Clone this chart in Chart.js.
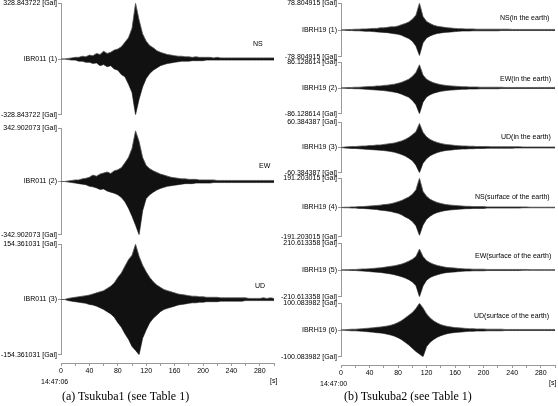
<!DOCTYPE html>
<html>
<head>
<meta charset="utf-8">
<script src="https://cdn.jsdelivr.net/npm/chart.js@4.4.1/dist/chart.umd.min.js"></script>
<style>
  body { margin: 0; background: #fff; width: 558px; height: 406px; position: relative; overflow: hidden; }
  canvas { position: absolute; }
  .t { position: absolute; font: 7px "Liberation Sans", Arial, sans-serif; color: #000; white-space: nowrap; }
  .cap { position: absolute; font: 12px "Liberation Serif", "Times New Roman", serif; color: #000; white-space: nowrap; }
</style>
</head>
<body>
<script>
// time samples [s]
const TIMES = [0,5,10,15,20,25,30,35,40,45,50,55,60,65,70,75,80,85,90,95,100,105,110,115,120,125,130,135,140,145,
  150,155,160,165,170,175,180,185,190,195,200,205,210,215,220,225,230,235,240,245,250,255,260,265,270,275,280,285,290,295,300];
const X_TICKS = [0,40,80,120,160,200,240,280];

// peak values [Gal]
const MAX_A = ['328.843722','342.902073','154.361031'];
const MAX_B = ['78.804915','86.128614','60.384387','191.203015','210.613358','100.083982'];
const NAMES_A = ['IBR011 (1)','IBR011 (2)','IBR011 (3)'];
const NAMES_B = ['IBRH19 (1)','IBRH19 (2)','IBRH19 (3)','IBRH19 (4)','IBRH19 (5)','IBRH19 (6)'];

// envelopes (fraction of peak), upper and lower
const A1_UP = [0,0,0.01,0.02,0.03,0.03, 0.05,0.04,0.07,0.06,0.1,0.08, 0.14,0.1,0.12,0.16,0.18,0.22, 0.3,0.38,0.55,1.0,0.7,0.45,
  0.32,0.24,0.2,0.15,0.12,0.1, 0.08,0.07,0.06,0.05,0.05,0.04, 0.04,0.03,0.04,0.03,0.03,0.03, 0.03,0.02,0.03,0.02,0.02,0.02,
  0.02,0.02,0.02,0.02,0.02,0.02, 0.02,0.02,0.02,0.02,0.02,0.02,0.02];
const A1_LO = [0,0,-0.01,-0.02,-0.02,-0.04, -0.04,-0.06,-0.06,-0.08,-0.07,-0.12, -0.1,-0.14,-0.12,-0.18,-0.2,-0.28, -0.32,-0.45,-0.6,-1.0,-0.72,-0.5,
  -0.35,-0.26,-0.2,-0.16,-0.12,-0.1, -0.08,-0.07,-0.06,-0.05,-0.04,-0.04, -0.04,-0.03,-0.03,-0.03,-0.03,-0.02, -0.02,-0.02,-0.02,-0.02,-0.02,-0.02,
  -0.02,-0.02,-0.02,-0.02,-0.02,-0.02, -0.02,-0.02,-0.02,-0.02,-0.02,-0.02,-0.02];
const A2_UP = [0,0,0.01,0.02,0.03,0.03, 0.05,0.06,0.08,0.12,0.1,0.14, 0.16,0.18,0.15,0.2,0.22,0.26, 0.35,0.45,0.62,0.95,0.75,0.45,
  0.3,0.24,0.2,0.17,0.14,0.12, 0.1,0.08,0.07,0.06,0.05,0.05, 0.04,0.04,0.04,0.03,0.03,0.03, 0.03,0.03,0.02,0.02,0.02,0.02,
  0.02,0.02,0.02,0.02,0.02,0.02, 0.02,0.02,0.02,0.02,0.02,0.02,0.02];
const A2_LO = [0,0,-0.01,-0.02,-0.03,-0.04, -0.05,-0.06,-0.09,-0.1,-0.12,-0.15, -0.14,-0.18,-0.2,-0.22,-0.25,-0.3, -0.38,-0.5,-0.65,-0.82,-1.0,-0.55,
  -0.32,-0.25,-0.2,-0.16,-0.13,-0.11, -0.09,-0.08,-0.07,-0.06,-0.05,-0.04, -0.04,-0.04,-0.03,-0.03,-0.03,-0.03, -0.03,-0.02,-0.02,-0.02,-0.02,-0.02,
  -0.02,-0.02,-0.02,-0.02,-0.02,-0.02, -0.02,-0.02,-0.02,-0.02,-0.02,-0.02,-0.02];
const A3_UP = [0,0,0.02,0.03,0.04,0.05, 0.06,0.07,0.08,0.1,0.12,0.14, 0.16,0.2,0.24,0.3,0.4,0.48, 0.6,0.72,0.8,1.0,0.78,0.62,
  0.5,0.4,0.32,0.26,0.22,0.18, 0.16,0.14,0.12,0.1,0.09,0.08, 0.07,0.06,0.06,0.05,0.05,0.04, 0.04,0.04,0.04,0.03,0.03,0.03,
  0.03,0.03,0.03,0.03,0.03,0.02, 0.02,0.02,0.02,0.03,0.02,0.03,0.02];
const A3_LO = [0,0,-0.02,-0.03,-0.04,-0.05, -0.06,-0.07,-0.09,-0.1,-0.12,-0.15, -0.18,-0.22,-0.26,-0.32,-0.42,-0.5, -0.62,-0.72,-0.85,-0.92,-1.0,-0.7,
  -0.55,-0.42,-0.34,-0.28,-0.22,-0.18, -0.16,-0.14,-0.12,-0.1,-0.09,-0.08, -0.07,-0.06,-0.06,-0.05,-0.05,-0.04, -0.04,-0.04,-0.04,-0.03,-0.03,-0.03,
  -0.03,-0.03,-0.03,-0.03,-0.02,-0.02, -0.02,-0.02,-0.02,-0.02,-0.02,-0.02,-0.02];

const B1_UP = [0,0.01,0.02,0.02,0.03,0.03, 0.04,0.04,0.05,0.06,0.06,0.08, 0.08,0.1,0.12,0.12,0.15,0.2, 0.24,0.3,0.4,0.55,1.0,0.5,
  0.32,0.24,0.18,0.14,0.12,0.1, 0.08,0.07,0.06,0.05,0.05,0.04, 0.04,0.04,0.03,0.03,0.03,0.03, 0.03,0.03,0.03,0.03,0.03,0.03,
  0.02,0.02,0.02,0.02,0.02,0.02, 0.02,0.02,0.02,0.02,0.02,0.02,0.02];
const B1_LO = [0,-0.01,-0.02,-0.02,-0.03,-0.03, -0.04,-0.05,-0.05,-0.06,-0.07,-0.08, -0.09,-0.1,-0.12,-0.14,-0.16,-0.2, -0.26,-0.32,-0.42,-0.6,-0.95,-0.48,
  -0.3,-0.22,-0.17,-0.13,-0.11,-0.09, -0.08,-0.07,-0.06,-0.05,-0.04,-0.04, -0.04,-0.03,-0.03,-0.03,-0.03,-0.03, -0.03,-0.03,-0.03,-0.02,-0.02,-0.02,
  -0.02,-0.02,-0.02,-0.02,-0.02,-0.02, -0.02,-0.02,-0.02,-0.02,-0.02,-0.02,-0.02];
const B2_UP = [0,0.01,0.02,0.02,0.03,0.03, 0.04,0.05,0.06,0.06,0.08,0.08, 0.1,0.11,0.13,0.15,0.18,0.22, 0.28,0.34,0.45,0.6,0.9,0.5,
  0.34,0.26,0.2,0.16,0.13,0.11, 0.09,0.08,0.07,0.06,0.05,0.05, 0.04,0.04,0.04,0.03,0.03,0.03, 0.03,0.03,0.03,0.03,0.02,0.02,
  0.02,0.02,0.02,0.02,0.02,0.02, 0.02,0.02,0.02,0.02,0.02,0.02,0.02];
const B2_LO = [0,-0.01,-0.02,-0.02,-0.03,-0.03, -0.04,-0.05,-0.06,-0.07,-0.08,-0.09, -0.1,-0.12,-0.14,-0.16,-0.19,-0.24, -0.3,-0.36,-0.48,-0.65,-1.0,-0.55,
  -0.35,-0.26,-0.2,-0.16,-0.13,-0.11, -0.09,-0.08,-0.07,-0.06,-0.05,-0.05, -0.04,-0.04,-0.04,-0.03,-0.03,-0.03, -0.03,-0.03,-0.03,-0.02,-0.02,-0.02,
  -0.02,-0.02,-0.02,-0.02,-0.02,-0.02, -0.02,-0.02,-0.02,-0.02,-0.02,-0.02,-0.02];
const B3_UP = [0,0.02,0.03,0.04,0.04,0.05, 0.06,0.06,0.08,0.08,0.1,0.1, 0.12,0.14,0.16,0.18,0.22,0.26, 0.32,0.4,0.5,0.62,0.95,0.6,
  0.42,0.32,0.25,0.2,0.16,0.13, 0.11,0.1,0.08,0.07,0.06,0.06, 0.05,0.05,0.04,0.04,0.04,0.04, 0.03,0.03,0.03,0.03,0.03,0.03,
  0.03,0.03,0.03,0.02,0.02,0.02, 0.02,0.02,0.02,0.02,0.02,0.02,0.02];
const B3_LO = [0,-0.02,-0.03,-0.04,-0.04,-0.05, -0.06,-0.07,-0.08,-0.09,-0.1,-0.11, -0.12,-0.14,-0.16,-0.19,-0.23,-0.28, -0.34,-0.42,-0.52,-0.7,-1.0,-0.62,
  -0.44,-0.33,-0.26,-0.2,-0.16,-0.13, -0.11,-0.1,-0.08,-0.07,-0.06,-0.06, -0.05,-0.05,-0.04,-0.04,-0.04,-0.03, -0.03,-0.03,-0.03,-0.03,-0.03,-0.03,
  -0.03,-0.02,-0.02,-0.02,-0.02,-0.02, -0.02,-0.02,-0.02,-0.02,-0.02,-0.02,-0.02];
const B4_UP = [0,0.01,0.01,0.02,0.02,0.03, 0.03,0.04,0.05,0.06,0.07,0.08, 0.1,0.11,0.13,0.16,0.2,0.24, 0.3,0.36,0.45,0.6,1.0,0.55,
  0.38,0.28,0.22,0.17,0.14,0.11, 0.09,0.08,0.07,0.06,0.05,0.04, 0.04,0.03,0.03,0.03,0.03,0.02, 0.02,0.02,0.02,0.02,0.02,0.02,
  0.02,0.02,0.02,0.02,0.02,0.01, 0.01,0.01,0.01,0.01,0.01,0.01,0.01];
const B4_LO = [0,-0.01,-0.01,-0.02,-0.02,-0.03, -0.03,-0.04,-0.05,-0.06,-0.07,-0.09, -0.1,-0.12,-0.14,-0.17,-0.2,-0.25, -0.32,-0.38,-0.48,-0.62,-0.95,-0.6,
  -0.4,-0.3,-0.22,-0.17,-0.14,-0.11, -0.09,-0.08,-0.07,-0.06,-0.05,-0.04, -0.04,-0.03,-0.03,-0.03,-0.03,-0.02, -0.02,-0.02,-0.02,-0.02,-0.02,-0.02,
  -0.02,-0.02,-0.02,-0.01,-0.01,-0.01, -0.01,-0.01,-0.01,-0.01,-0.01,-0.01,-0.01];
const B5_UP = [0,0.01,0.01,0.02,0.02,0.03, 0.04,0.04,0.05,0.06,0.07,0.08, 0.1,0.12,0.14,0.16,0.19,0.22, 0.27,0.33,0.4,0.5,0.78,0.5,
  0.35,0.27,0.21,0.17,0.14,0.11, 0.09,0.08,0.07,0.06,0.05,0.04, 0.04,0.03,0.03,0.03,0.03,0.02, 0.02,0.02,0.02,0.02,0.02,0.02,
  0.02,0.02,0.02,0.02,0.02,0.01, 0.01,0.01,0.01,0.01,0.01,0.01,0.01];
const B5_LO = [0,-0.01,-0.01,-0.02,-0.02,-0.03, -0.04,-0.05,-0.06,-0.07,-0.08,-0.09, -0.11,-0.13,-0.15,-0.18,-0.21,-0.25, -0.3,-0.36,-0.45,-0.58,-1.0,-0.6,
  -0.38,-0.28,-0.22,-0.18,-0.14,-0.11, -0.09,-0.08,-0.07,-0.06,-0.05,-0.04, -0.04,-0.03,-0.03,-0.03,-0.03,-0.02, -0.02,-0.02,-0.02,-0.02,-0.02,-0.02,
  -0.02,-0.02,-0.02,-0.01,-0.01,-0.01, -0.01,-0.01,-0.01,-0.01,-0.01,-0.01,-0.01];
const B6_UP = [0,0.01,0.02,0.03,0.03,0.04, 0.05,0.06,0.07,0.08,0.1,0.11, 0.13,0.15,0.18,0.22,0.28,0.35, 0.45,0.55,0.65,0.8,1.0,0.82,
  0.6,0.45,0.34,0.26,0.2,0.16, 0.13,0.11,0.09,0.08,0.07,0.06, 0.05,0.05,0.04,0.04,0.04,0.03, 0.03,0.03,0.03,0.03,0.02,0.02,
  0.02,0.02,0.02,0.02,0.02,0.02, 0.02,0.02,0.02,0.02,0.02,0.02,0.02];
const B6_LO = [0,-0.01,-0.02,-0.03,-0.03,-0.04, -0.05,-0.06,-0.07,-0.08,-0.1,-0.11, -0.13,-0.16,-0.19,-0.23,-0.29,-0.36, -0.46,-0.56,-0.68,-0.8,-0.9,-1.0,
  -0.62,-0.46,-0.35,-0.27,-0.21,-0.17, -0.13,-0.11,-0.09,-0.08,-0.07,-0.06, -0.05,-0.05,-0.04,-0.04,-0.04,-0.03, -0.03,-0.03,-0.03,-0.03,-0.02,-0.02,
  -0.02,-0.02,-0.02,-0.02,-0.02,-0.02, -0.02,-0.02,-0.02,-0.02,-0.02,-0.02,-0.02];

const FONT = { family: '"Liberation Sans", Arial, sans-serif', size: 7 };
const PAD = 5;

function makeCanvas(left, top, w, h) {
    let c = document.createElement('canvas');
    c.width = w; c.height = h;
    c.style.left = left + 'px'; c.style.top = top + 'px';
    c.style.width = w + 'px'; c.style.height = h + 'px';
    document.body.appendChild(c);
    return c;
}

function makeTrace(left, axisW, w, top, bottom, up, lo, max, name) {
    let c = makeCanvas(left, top - PAD, w, bottom - top + 2 * PAD);
    new Chart(c, {
        type: 'line',
        data: {
            datasets: [
                { data: up.map((v, i) => ({ x: TIMES[i], y: v })), fill: '+1', backgroundColor: '#111', borderColor: '#555', borderWidth: 0.8, pointRadius: 0, tension: 0 },
                { data: lo.map((v, i) => ({ x: TIMES[i], y: v })), fill: false, borderColor: '#555', borderWidth: 0.8, pointRadius: 0, tension: 0 }
            ]
        },
        options: {
            responsive: false, animation: false, devicePixelRatio: 1,
            layout: { padding: { top: PAD, bottom: PAD, right: 2, left: 0 } },
            plugins: { legend: { display: false }, tooltip: { enabled: false } },
            scales: {
                x: { type: 'linear', min: 0, max: 300, display: false },
                y: {
                    min: -1, max: 1,
                    afterBuildTicks: a => { a.ticks = [{ value: -1 }, { value: 0 }, { value: 1 }]; },
                    afterFit: a => { a.width = axisW; },
                    border: { color: '#999', width: 1 },
                    grid: { drawOnChartArea: false, tickLength: 3, color: '#999' },
                    ticks: {
                        font: FONT, color: '#000', padding: 1, autoSkip: false,
                        callback: v => v === 0 ? name : (v > 0 ? '' : '-') + max + ' [Gal]'
                    }
                }
            }
        }
    });
}

function makeAxis(left, axisW, w, lineY) {
    let c = makeCanvas(left, lineY - 10, w, 30);
    new Chart(c, {
        type: 'line',
        data: { datasets: [{ data: [] }] },
        options: {
            responsive: false, animation: false, devicePixelRatio: 1,
            layout: { padding: { top: 0, bottom: 0, right: 2, left: axisW } },
            plugins: { legend: { display: false }, tooltip: { enabled: false } },
            scales: {
                y: { display: false },
                x: {
                    type: 'linear', min: 0, max: 300,
                    afterFit: a => { a.height = 20; },
                    border: { color: '#999', width: 1 },
                    grid: { drawOnChartArea: false, tickLength: 3, color: '#999' },
                    ticks: {
                        stepSize: 20, font: FONT, color: '#000', padding: 1, maxRotation: 0, autoSkip: false,
                        callback: v => X_TICKS.includes(v) ? String(v) : ''
                    }
                }
            }
        }
    });
}

const A_POS = [[3, 115], [128, 235], [244, 355]];
const A_DATA = [[A1_UP, A1_LO], [A2_UP, A2_LO], [A3_UP, A3_LO]];
A_POS.forEach((p, i) => makeTrace(0, 61, 276, p[0], p[1], A_DATA[i][0], A_DATA[i][1], MAX_A[i], NAMES_A[i]));

const B_POS = [[3, 57], [62, 114], [122, 173], [178, 237], [243, 297], [303, 357]];
const B_DATA = [[B1_UP, B1_LO], [B2_UP, B2_LO], [B3_UP, B3_LO], [B4_UP, B4_LO], [B5_UP, B5_LO], [B6_UP, B6_LO]];
B_POS.forEach((p, i) => makeTrace(278, 63, 279, p[0], p[1], B_DATA[i][0], B_DATA[i][1], MAX_B[i], NAMES_B[i]));

makeAxis(0, 61, 276, 363);
makeAxis(278, 63, 279, 365);

const LABELS = [
    ['NS', 253, 40], ['EW', 259, 162], ['UD', 255, 282],
    ['NS(in the earth)', 500, 14], ['EW(in the earth)', 500, 75], ['UD(in the earth)', 501, 133],
    ['NS(surface of the earth)', 475, 193], ['EW(surface of the earth)', 475, 252], ['UD(surface of the earth)', 474, 312],
    ['14:47:06', 41, 378], ['[s]', 270, 377], ['14:47:00', 320, 380], ['[s]', 549, 379]
];
LABELS.forEach(l => {
    let d = document.createElement('div');
    d.className = 't'; d.textContent = l[0];
    d.style.left = l[1] + 'px'; d.style.top = l[2] + 'px';
    document.body.appendChild(d);
});
[['(a) Tsukuba1 (see Table 1)', 62, 389], ['(b) Tsukuba2 (see Table 1)', 344, 389]].forEach(l => {
    let d = document.createElement('div');
    d.className = 'cap'; d.textContent = l[0];
    d.style.left = l[1] + 'px'; d.style.top = l[2] + 'px';
    document.body.appendChild(d);
});
</script>
</body>
</html>
